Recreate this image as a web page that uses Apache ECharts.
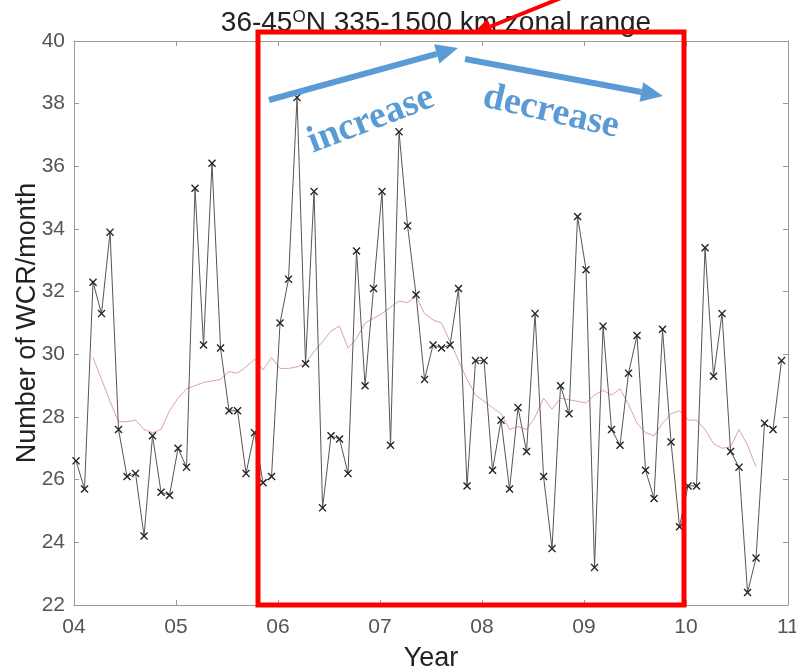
<!DOCTYPE html>
<html>
<head>
<meta charset="utf-8">
<script src="https://cdn.jsdelivr.net/npm/echarts@6/dist/echarts.min.js"></script>
<style>
html,body{margin:0;padding:0;background:#fff;}
#chart{width:796px;height:671px;}
</style>
</head>
<body>
<div id="chart"></div>
<script>
// ---- data (monthly counts, Jan 2004 - Dec 2010) ----
const startYear = 2004;
const monthlyWCR = [
  26.6, 25.7, 32.3, 31.3, 33.9, 27.6, 26.1, 26.2, 24.2, 27.4, 25.6, 25.5,
  27.0, 26.4, 35.3, 30.3, 36.1, 30.2, 28.2, 28.2, 26.2, 27.5, 25.9, 26.1,
  31.0, 32.4, 38.2, 29.7, 35.2, 25.1, 27.4, 27.3, 26.2, 33.3, 29.0, 32.1,
  35.2, 27.1, 37.1, 34.1, 31.9, 29.2, 30.3, 30.2, 30.3, 32.1, 25.8, 29.8,
  29.8, 26.3, 27.9, 25.7, 28.3, 26.9, 31.3, 26.1, 23.8, 29.0, 28.1, 34.4,
  32.7, 23.2, 30.9, 27.6, 27.1, 29.4, 30.6, 26.3, 25.4, 30.8, 27.2, 24.5,
  25.8, 25.8, 33.4, 29.3, 31.3, 26.9, 26.4, 22.4, 23.5, 27.8, 27.6, 29.8
];
// running mean (red), starting at month index 2
const runningStart = 2;
const runningMean = [
  29.9, 29.2, 28.5, 27.85, 27.85, 27.9, 27.6, 27.5, 27.6, 28.2,
  28.6, 28.9, 29.0, 29.1, 29.15, 29.2, 29.45, 29.4, 29.6, 29.85,
  29.5, 29.9, 29.55, 29.55, 29.6, 29.7, 30.1, 30.4, 30.75, 30.9,
  30.2, 30.5, 31.0, 31.15, 31.3, 31.5, 31.7, 31.65, 31.85, 31.3,
  31.1, 31.0, 30.4, 29.8, 29.2, 28.7, 28.5, 28.3, 28.1, 27.6,
  27.7, 27.6, 28.0, 28.6, 28.25, 28.6, 28.55, 28.5, 28.45, 28.7,
  28.85, 28.7, 28.9, 28.4, 27.8, 27.5, 27.4, 27.8, 28.1, 28.2,
  27.9, 27.9, 27.6, 27.15, 27.0, 27.05, 27.6, 27.1, 26.4
];
const yearTicks = [2004, 2005, 2006, 2007, 2008, 2009, 2010, 2011];
const yTicks = [22, 24, 26, 28, 30, 32, 34, 36, 38, 40];
const monthShift = 0.24; // position of sample inside month (fraction of month)

const toX = i => startYear + (i + monthShift) / 12;
const blackData = monthlyWCR.map((v, i) => [toX(i), v]);
const redData = runningMean.map((v, k) => [toX(k + runningStart), v]);

const X_SYMBOL = 'path://M0,1.2 L1.2,0 L5,3.8 L8.8,0 L10,1.2 L6.2,5 L10,8.8 L8.8,10 L5,6.2 L1.2,10 L0,8.8 L3.8,5 Z';

const chart = echarts.init(document.getElementById('chart'), null, {renderer: 'canvas'});

function arrow(x1, y1, x2, y2, color, w, headLen, headW) {
  const ang = Math.atan2(y2 - y1, x2 - x1);
  const bx = x2 - headLen * Math.cos(ang), by = y2 - headLen * Math.sin(ang);
  const px = -Math.sin(ang) * headW, py = Math.cos(ang) * headW;
  return [
    {type: 'line', shape: {x1: x1, y1: y1, x2: bx, y2: by}, style: {stroke: color, lineWidth: w}, z: 100},
    {type: 'polygon', shape: {points: [[x2, y2], [bx + px, by + py], [bx - px, by - py]]}, style: {fill: color}, z: 100}
  ];
}

const blue = '#5b9bd5';
const graphics = [
  {type: 'rect', shape: {x: 258, y: 32, width: 426, height: 573}, style: {fill: 'none', stroke: '#ff0000', lineWidth: 5}, z: 90},
  ...arrow(269, 100, 458, 48, blue, 6, 22, 10),
  ...arrow(465, 59, 663, 96, blue, 6, 22, 10),
  ...arrow(640, -34, 472, 34, '#ff0000', 4, 20, 8),
  {type: 'text', x: 371, y: 120, rotation: 21 * Math.PI / 180,
   style: {text: 'increase', fill: blue, font: 'bold 38px "Liberation Serif"', textAlign: 'center', textVerticalAlign: 'middle'}, z: 100},
  {type: 'text', x: 551, y: 112, rotation: -13 * Math.PI / 180,
   style: {text: 'decrease', fill: blue, font: 'bold 38px "Liberation Serif"', textAlign: 'center', textVerticalAlign: 'middle'}, z: 100}
];

const axisLineStyle = {show: true, lineStyle: {color: '#999', width: 1}};
const tickStyle = {show: true, inside: true, length: 5, lineStyle: {color: '#999'}};
const FONT = '"Liberation Sans", Arial';

chart.setOption({
  animation: false,
  backgroundColor: '#fff',
  title: {
    text: '36-45{s|O}N 335-1500 km zonal range',
    left: 431, top: 4, textAlign: 'center',
    textStyle: {
      fontFamily: FONT, fontSize: 28, fontWeight: 'normal', color: '#222',
      rich: {s: {fontSize: 17, color: '#222', fontFamily: FONT, verticalAlign: 'top', padding: [0, 0, 12, 0]}}
    }
  },
  grid: {left: 74, right: 8, top: 41, bottom: 66, containLabel: false, outerBoundsMode: 'none'},
  xAxis: [{
    type: 'value', min: yearTicks[0], max: yearTicks[yearTicks.length - 1], interval: 1,
    axisLine: axisLineStyle, axisTick: tickStyle, splitLine: {show: false},
    axisLabel: {color: '#555', fontSize: 21, fontFamily: FONT, margin: 12,
      formatter: v => String(v).slice(2)},
    name: 'Year', nameLocation: 'middle', nameGap: 40, nameMoveOverlap: false,
    nameTextStyle: {color: '#222', fontSize: 27, fontFamily: FONT}
  }, {
    type: 'value', position: 'top', min: yearTicks[0], max: yearTicks[yearTicks.length - 1], interval: 1,
    axisLine: axisLineStyle, axisTick: tickStyle, axisLabel: {show: false}, splitLine: {show: false}
  }],
  yAxis: [{
    type: 'value', min: yTicks[0], max: yTicks[yTicks.length - 1], interval: 2,
    axisLine: axisLineStyle, axisTick: tickStyle, splitLine: {show: false},
    axisLabel: {color: '#555', fontSize: 21, fontFamily: FONT, margin: 9},
    name: 'Number of WCR/month', nameLocation: 'middle', nameGap: 33, nameMoveOverlap: false,
    nameTextStyle: {color: '#222', fontSize: 27, fontFamily: FONT}
  }, {
    type: 'value', position: 'right', min: yTicks[0], max: yTicks[yTicks.length - 1], interval: 2,
    axisLine: axisLineStyle, axisTick: tickStyle, axisLabel: {show: false}, splitLine: {show: false}
  }],
  series: [{
    type: 'line', name: 'running mean', data: redData, showSymbol: false, symbol: 'none',
    lineStyle: {color: '#e0a0ac', width: 1}, z: 2
  }, {
    type: 'line', name: 'monthly', data: blackData,
    symbol: X_SYMBOL, symbolSize: 8,
    itemStyle: {color: '#222'},
    lineStyle: {color: '#555', width: 1}, z: 3
  }],
  graphic: graphics
});
</script>
</body>
</html>
